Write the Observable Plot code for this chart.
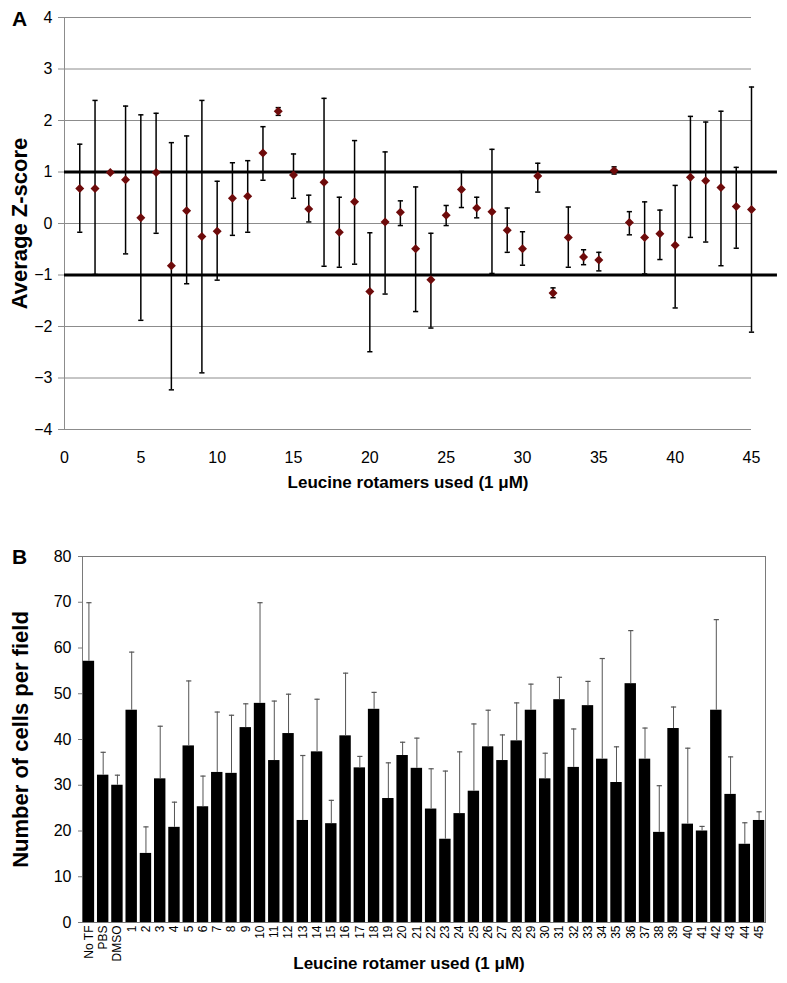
<!DOCTYPE html>
<html><head><meta charset="utf-8">
<script src="https://cdn.jsdelivr.net/npm/d3@7"></script>
<script src="https://cdn.jsdelivr.net/npm/@observablehq/plot@0.6"></script>
<style>
body{margin:0;background:#fff;font-family:"Liberation Sans",Arial,sans-serif;}
#wrap{position:relative;width:787px;height:983px;overflow:hidden;}
#a{position:absolute;left:0;top:0;}
#b{position:absolute;left:0;top:500px;}
.plabel{position:absolute;font-weight:bold;font-size:21px;line-height:1;color:#000;}
</style></head><body>
<div id="wrap">
<div id="a"></div><div id="b"></div>
<div class="plabel" style="left:12px;top:8px">A</div>
<div class="plabel" style="left:12px;top:546px">B</div>
</div>
<script>
// ---------- Panel A data ----------
const rotamers = [1,2,3,4,5,6,7,8,9,10,11,12,13,14,15,16,17,18,19,20,21,22,23,24,25,26,27,28,29,30,31,32,33,34,35,36,37,38,39,40,41,42,43,44,45];
const zMean = [0.68,0.68,0.99,0.85,0.11,0.99,-0.82,0.25,-0.25,-0.15,0.49,0.53,1.37,2.18,0.94,0.28,0.80,-0.17,0.42,-1.32,0.03,0.22,-0.49,-1.09,0.16,0.66,0.30,0.23,-0.13,-0.49,0.92,-1.35,-0.27,-0.65,-0.71,1.03,0.02,-0.27,-0.20,-0.42,0.90,0.83,0.70,0.33,0.27];
const zLow  = [-0.17,-0.99,0.99,-0.59,-1.88,-0.19,-3.23,-1.17,-2.90,-1.10,-0.23,-0.17,0.84,2.10,0.49,0.03,-0.83,-0.85,-0.79,-2.49,-1.37,-0.04,-1.71,-2.03,-0.04,0.31,0.11,-0.97,-0.56,-0.81,0.61,-1.44,-0.85,-0.80,-0.92,0.96,-0.22,-0.98,-0.70,-1.64,-0.27,-0.36,-0.82,-0.48,-2.11];
const zHigh = [1.54,2.39,0.99,2.28,2.11,2.14,1.57,1.70,2.39,0.82,1.18,1.22,1.88,2.25,1.35,0.55,2.43,0.51,1.61,-0.18,1.39,0.44,0.71,-0.19,0.35,1.01,0.51,1.44,0.30,-0.16,1.17,-1.25,0.32,-0.51,-0.56,1.10,0.23,0.42,0.26,0.74,2.08,1.97,2.18,1.09,2.65];
const zThresholds = [1, -1];
const xTicksA = [0,5,10,15,20,25,30,35,40,45];
const yTicksA = [-4,-3,-2,-1,0,1,2,3,4];

// ---------- Panel B data ----------
const cellLabels = ["No TF","PBS","DMSO","1","2","3","4","5","6","7","8","9","10","11","12","13","14","15","16","17","18","19","20","21","22","23","24","25","26","27","28","29","30","31","32","33","34","35","36","37","38","39","40","41","42","43","44","45"];
const cellMeans = [57.1,32.2,30.0,46.4,15.1,31.4,20.8,38.6,25.3,32.8,32.6,42.6,47.9,35.4,41.3,22.3,37.3,21.6,40.8,33.8,46.6,27.1,36.5,33.7,24.8,18.2,23.8,28.7,38.4,35.4,39.7,46.4,31.4,48.7,33.9,47.4,35.7,30.6,52.2,35.7,19.7,42.4,21.5,20.0,46.4,28.0,17.1,22.3];
const cellHigh  = [69.9,37.2,32.2,59.1,20.9,42.9,26.3,52.8,32.0,46.0,45.3,47.8,69.9,48.4,49.9,36.5,48.8,26.7,54.5,36.3,50.3,34.9,39.4,40.3,33.6,33.1,37.3,43.4,46.4,41.0,48.0,52.1,37.0,53.6,42.3,52.7,57.7,38.4,63.8,42.5,29.9,47.1,38.1,21.0,66.2,36.2,21.8,24.2];
const yTicksB = [0,10,20,30,40,50,60,70,80];

// ---------- symbols ----------
const cap = {draw(ctx, size){const w = Math.sqrt(size/Math.PI); ctx.moveTo(-w,0); ctx.lineTo(w,0);}};
const diamond = {draw(ctx, size){const h = Math.sqrt(size/Math.PI); ctx.moveTo(0,-h); ctx.lineTo(h,0); ctx.lineTo(0,h); ctx.lineTo(-h,0); ctx.closePath();}};
const fmtMinus = d => d < 0 ? "\u2212" + Math.abs(d) : String(d);

// ---------- Panel A ----------
const dataA = rotamers.map((r,i) => ({x:r, y:zMean[i], lo:zLow[i], hi:zHigh[i]}));
const plotA = Plot.plot({
  width: 787, height: 500,
  marginLeft: 64, marginRight: 36, marginTop: 17, marginBottom: 71,
  x: {domain: [0,45]},
  y: {domain: [-4,4]},
  style: {fontFamily: "'Liberation Sans', Arial, sans-serif", color: "#000", background: "#fff"},
  marks: [
    Plot.ruleY(yTicksA, {stroke: "#8c8c8c", strokeWidth: 1}),
    Plot.ruleX([0], {stroke: "#8c8c8c", strokeWidth: 1}),
    Plot.axisY({ticks: yTicksA, tickSize: 6, tickPadding: 6, fontSize: 16, stroke: "#8c8c8c", tickFormat: fmtMinus, label: null}),
    Plot.axisX({ticks: xTicksA, tickSize: 0, tickPadding: 22, fontSize: 16, tickFormat: d => String(d), label: null}),
    Plot.ruleY(zThresholds, {x1: () => 0, x2: () => 46.7, stroke: "#000", strokeWidth: 3}),
    Plot.ruleX(dataA, {x: "x", y1: "lo", y2: "hi", stroke: "#000", strokeWidth: 1.5}),
    Plot.dot(dataA, {x: "x", y: "lo", symbol: cap, r: 2.6, stroke: "#000", strokeWidth: 1.5}),
    Plot.dot(dataA, {x: "x", y: "hi", symbol: cap, r: 2.6, stroke: "#000", strokeWidth: 1.5}),
    Plot.dot(dataA, {x: "x", y: "y", symbol: diamond, r: 4.5, fill: "#6e0b0b", stroke: "none"}),
    Plot.text(["Average Z-score"], {frameAnchor: "left", textAnchor: "middle", dx: -45, rotate: -90, fontSize: 22, fontWeight: "bold"}),
    Plot.text(["Leucine rotamers used (1 \u03bcM)"], {frameAnchor: "bottom", dy: 58, fontSize: 17, fontWeight: "bold"})
  ]
});
document.getElementById("a").appendChild(plotA);

// ---------- Panel B ----------
const dataB = cellLabels.map((c,i) => ({c, v: cellMeans[i], hi: cellHigh[i]}));
const plotB = Plot.plot({
  width: 787, height: 483,
  marginLeft: 82, marginRight: 22, marginTop: 56, marginBottom: 61,
  x: {domain: cellLabels, paddingInner: 0.2, paddingOuter: 0.05, round: false},
  y: {domain: [0,80]},
  style: {fontFamily: "'Liberation Sans', Arial, sans-serif", color: "#000", background: "#fff"},
  marks: [
    Plot.frame({stroke: "#7a7a7a"}),
    Plot.barY(dataB, {x: "c", y: "v", fill: "#000"}),
    Plot.ruleX(dataB, {x: "c", y1: "v", y2: "hi", stroke: "#555", strokeWidth: 1}),
    Plot.dot(dataB, {x: "c", y: "hi", symbol: cap, r: 2.6, stroke: "#555", strokeWidth: 1.2}),
    Plot.axisY({ticks: yTicksB, tickSize: 4, tickPadding: 7, fontSize: 16, stroke: "#7a7a7a", label: null}),
    Plot.axisX({tickSize: 0, tickPadding: 3, tickRotate: -90, fontSize: 12, label: null}),
    Plot.text(["Number of cells per field"], {frameAnchor: "left", textAnchor: "middle", dx: -62, rotate: -90, fontSize: 22, fontWeight: "bold"}),
    Plot.text(["Leucine rotamer used (1 \u03bcM)"], {frameAnchor: "bottom", dx: -15, dy: 46, fontSize: 17, fontWeight: "bold"})
  ]
});
document.getElementById("b").appendChild(plotB);
</script>
</body></html>
